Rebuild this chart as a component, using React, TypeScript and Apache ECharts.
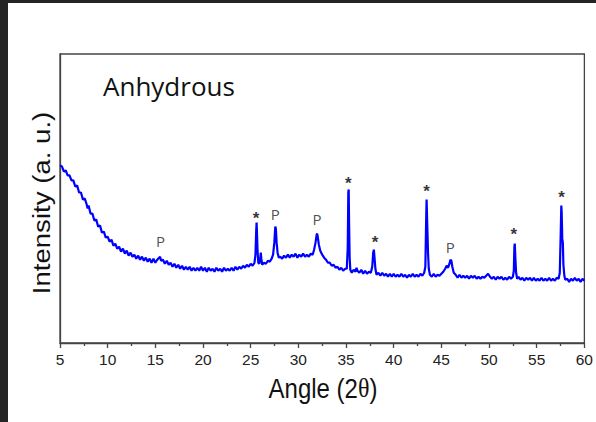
import React, { useEffect, useRef } from "react";
import * as echarts from "echarts";

// XRD scan: [2θ (deg), intensity (a.u.)]
const scanLow: number[][] = [
  [5.0, 177], [5.2, 176], [5.4, 171], [5.6, 172], [5.8, 167], [6.0, 167], [6.2, 162], [6.4, 162],
  [6.6, 156], [6.8, 157], [7.0, 150], [7.2, 150], [7.4, 143], [7.6, 144], [7.8, 138], [7.9, 134],
  [8.0, 137], [8.2, 129], [8.4, 129], [8.6, 122], [8.8, 123], [9.0, 116], [9.2, 117], [9.4, 110],
  [9.6, 111], [9.8, 105], [10.0, 106], [10.2, 101], [10.4, 103], [10.6, 97], [10.8, 99], [11.0, 94],
  [11.2, 96], [11.4, 91], [11.6, 94], [11.8, 89], [12.0, 92], [12.2, 87], [12.4, 90], [12.6, 86],
  [12.8, 88], [13.0, 84], [13.2, 87], [13.4, 83], [13.6, 86], [13.8, 82], [14.0, 85], [14.2, 81],
  [14.4, 84], [14.6, 80], [14.8, 84], [15.0, 80], [15.2, 83], [15.4, 85], [15.5, 86], [15.6, 82],
  [15.8, 83], [16.0, 79], [16.2, 82], [16.4, 78], [16.6, 80], [16.8, 76], [17.0, 79], [17.2, 75],
  [17.4, 78], [17.6, 74], [17.8, 77], [18.0, 73], [18.2, 76], [18.4, 73], [18.6, 76], [18.8, 72],
  [19.0, 75], [19.2, 72], [19.4, 75], [19.6, 72], [19.8, 76], [20.0, 72], [20.2, 75], [20.4, 71],
  [20.6, 75], [20.8, 72], [21.0, 74], [21.2, 71], [21.4, 75], [21.6, 72], [21.8, 74], [22.0, 71],
  [22.2, 75], [22.4, 72], [22.6, 74], [22.8, 72], [23.0, 75], [23.2, 72], [23.4, 76], [23.6, 73],
  [23.8, 76], [24.0, 74], [24.2, 77], [24.4, 75], [24.6, 78], [24.8, 76], [25.0, 79], [25.2, 77],
  [25.4, 80],
];

const scanMid: number[][] = [
  [25.5, 88], [25.58, 112], [25.62, 120], [25.66, 110], [25.72, 92], [25.8, 80], [25.9, 79],
  [26.0, 84], [26.06, 90], [26.12, 84], [26.2, 78], [26.4, 80], [26.6, 79], [26.8, 82], [27.0, 81],
  [27.2, 84], [27.35, 88], [27.48, 100], [27.58, 116], [27.64, 114], [27.72, 100], [27.82, 90],
  [27.95, 85], [28.1, 86], [28.3, 84], [28.5, 87], [28.7, 85], [28.9, 88], [29.1, 85], [29.3, 88],
  [29.5, 86], [29.7, 89], [29.9, 85], [30.1, 88], [30.3, 86], [30.5, 89], [30.7, 86], [30.9, 88],
  [31.1, 86], [31.3, 89], [31.5, 88], [31.65, 93], [31.8, 100], [31.92, 108], [31.98, 109],
  [32.06, 104], [32.15, 98], [32.3, 92], [32.5, 88], [32.7, 85], [32.9, 83], [33.1, 80], [33.3, 80],
  [33.5, 77], [33.7, 78], [33.9, 75], [34.1, 76], [34.3, 73], [34.5, 75], [34.7, 72], [34.9, 74],
  [35.08, 74], [35.18, 95], [35.24, 150], [35.28, 153], [35.32, 120], [35.38, 85], [35.45, 73],
  [35.6, 70], [35.8, 73], [36.0, 71], [36.1, 75], [36.2, 72], [36.4, 70], [36.6, 73], [36.8, 69],
  [37.0, 72], [37.2, 69], [37.4, 71], [37.6, 70], [37.75, 76], [37.85, 90], [37.92, 93],
  [37.98, 86], [38.08, 74], [38.2, 68], [38.4, 70], [38.6, 67], [38.8, 70], [39.0, 67], [39.2, 69],
  [39.4, 66], [39.6, 69], [39.8, 66], [40.0, 69], [40.2, 66], [40.4, 68], [40.6, 66], [40.8, 69],
  [41.0, 66], [41.2, 68], [41.4, 65], [41.6, 68], [41.8, 66], [42.0, 69], [42.2, 66], [42.4, 68],
  [42.6, 66], [42.8, 69], [43.0, 67], [43.2, 70],
];

const scanHigh: number[][] = [
  [43.32, 76], [43.4, 120], [43.45, 143], [43.5, 125], [43.55, 108], [43.6, 90], [43.68, 74],
  [43.8, 68], [44.0, 66], [44.2, 69], [44.4, 66], [44.6, 68], [44.8, 67], [45.0, 69], [45.2, 71],
  [45.4, 74], [45.55, 77], [45.7, 75], [45.85, 79], [45.95, 83], [46.05, 82], [46.15, 76],
  [46.3, 70], [46.5, 68], [46.7, 65], [46.9, 68], [47.1, 65], [47.3, 67], [47.5, 65], [47.7, 67],
  [47.9, 64], [48.1, 67], [48.3, 65], [48.5, 67], [48.7, 64], [48.9, 66], [49.1, 64], [49.3, 66],
  [49.5, 65], [49.7, 67], [49.9, 69], [50.1, 66], [50.3, 64], [50.5, 66], [50.7, 63], [50.9, 66],
  [51.1, 64], [51.3, 66], [51.5, 63], [51.7, 65], [51.9, 63], [52.1, 66], [52.3, 64], [52.5, 66],
  [52.6, 72], [52.66, 96], [52.7, 99], [52.76, 85], [52.84, 70], [52.95, 64], [53.1, 66], [53.3, 63],
  [53.5, 65], [53.7, 62], [53.9, 65], [54.1, 63], [54.3, 65], [54.5, 62], [54.7, 65], [54.9, 62],
  [55.1, 64], [55.3, 62], [55.5, 65], [55.7, 62], [55.9, 64], [56.1, 62], [56.3, 65], [56.5, 62],
  [56.7, 64], [56.9, 62], [57.1, 65], [57.3, 64], [57.42, 70], [57.52, 110], [57.58, 137],
  [57.62, 130], [57.68, 104], [57.74, 100], [57.8, 78], [57.9, 67], [58.0, 63], [58.2, 64],
  [58.4, 61], [58.6, 64], [58.8, 62], [59.0, 65], [59.2, 62], [59.4, 64], [59.6, 61], [59.8, 64],
  [60.0, 62],
];

// peak annotations
const peakAngles = [15.54, 25.56, 27.57, 31.96, 35.23, 38.05, 43.44, 45.94, 52.59, 57.6];
const peakHeights = [102, 129, 129, 124, 164, 105, 156, 96, 113, 150];
const peakMarks = ["P", "*", "P", "P", "*", "*", "*", "P", "*", "*"];

const xTicks = [5, 10, 15, 20, 25, 30, 35, 40, 45, 50, 55, 60];

export default function App() {
  const ref = useRef<HTMLDivElement>(null);
  useEffect(() => {
    if (!ref.current) return;
    const chart = echarts.init(ref.current, null, { renderer: "svg" });
    const scan = [...scanLow, ...scanMid, ...scanHigh];
    const marks = peakAngles.map((a, i) => ({
      value: [a, peakHeights[i]],
      label: {
        formatter: peakMarks[i],
        ...(peakMarks[i] === "*"
          ? { fontSize: 17, fontWeight: "bold", color: "#000", offset: [0, 5], fontFamily: "Liberation Sans" }
          : { fontSize: 15, color: "#222", fontFamily: "Open Sans" }),
      },
    }));
    chart.setOption({
      animation: false,
      backgroundColor: "#fff",
      grid: { left: 60, right: 8.5, top: 54, bottom: 79, show: true, borderColor: "#444", borderWidth: 1.3 },
      xAxis: {
        type: "value",
        min: xTicks[0],
        max: xTicks[xTicks.length - 1],
        interval: 5,
        axisLine: { lineStyle: { color: "#444", width: 1.3 } },
        axisTick: { length: 5, lineStyle: { color: "#444", width: 1.3 } },
        minorTick: { show: true, splitNumber: 2, length: 3, lineStyle: { color: "#444", width: 1.3 } },
        axisLabel: { fontSize: 15.5, color: "#222", margin: 8, fontFamily: "Liberation Sans" },
        splitLine: { show: false },
      },
      yAxis: {
        type: "value",
        min: 0,
        max: 288,
        axisLine: { show: true, lineStyle: { color: "#444", width: 1.3 } },
        axisTick: { show: false },
        axisLabel: { show: false },
        splitLine: { show: false },
      },
      series: [
        {
          type: "line",
          data: scan,
          showSymbol: false,
          symbol: "none",
          lineStyle: { color: "#0000ff", width: 2.2 },
          z: 2,
        },
        {
          type: "scatter",
          data: marks,
          symbolSize: 0,
          label: { show: true, position: "inside" },
          z: 3,
        },
      ],
      graphic: [
        { type: "rect", shape: { x: 0, y: 0, width: 8, height: 422 }, style: { fill: "#252525" } },
        { type: "rect", shape: { x: 0, y: 0, width: 596, height: 3 }, style: { fill: "#252525" } },
        {
          type: "text",
          x: 103,
          y: 86,
          style: {
            text: "Anhydrous",
            fill: "#111",
            font: "26px 'Open Sans'",
            verticalAlign: "middle",
          },
        },
        {
          type: "text",
          x: 323,
          y: 388,
          scaleY: 1.15,
          style: {
            text: "Angle (2{t|θ})",
            fill: "#111",
            font: "24px 'Liberation Sans'",
            align: "center",
            verticalAlign: "middle",
            rich: { t: { font: "24px 'Liberation Serif'", fill: "#111" } },
          },
        },
        {
          type: "text",
          x: 42,
          y: 203,
          rotation: Math.PI / 2,
          scaleX: 1.15,
          style: {
            text: "Intensity (a. u.)",
            fill: "#111",
            font: "24px 'Liberation Sans'",
            align: "center",
            verticalAlign: "middle",
          },
        },
      ],
    });
    return () => chart.dispose();
  }, []);
  return <div ref={ref} style={{ position: "absolute", left: 0, top: 0, width: 596, height: 422 }} />;
}
